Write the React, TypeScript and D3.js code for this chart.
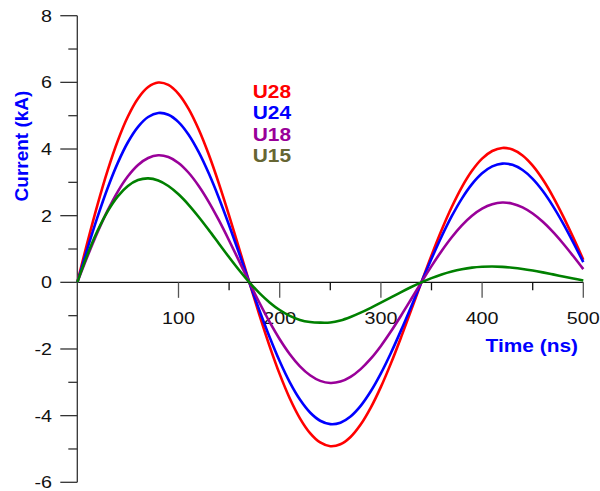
import React from "react";
import * as d3 from "d3";

const timeNs = [
  0, 10, 20, 30, 40, 50, 60, 70, 80, 90, 100, 110, 120, 130, 140, 150, 160, 170, 180, 190,
  200, 210, 220, 230, 240, 250, 260, 270, 280, 290, 300, 310, 320, 330, 340, 350, 360, 370, 380, 390,
  400, 410, 420, 430, 440, 450, 460, 470, 480, 490, 500,
];

const u28 = [
  0, 1.2, 2.333, 3.36, 4.25, 4.976, 5.517, 5.859, 5.995, 5.925, 5.657, 5.205, 4.585, 3.827, 2.955, 2.004, 1.007, 0,
  -0.984, -1.913, -2.755, -3.485, -4.08, -4.524, -4.805, -4.917, -4.859, -4.64, -4.268, -3.76, -3.138, -2.424, -1.643, -0.826, 0,
  0.807, 1.569, 2.259, 2.858, 3.346, 3.711, 3.94, 4.032, 3.985, 3.805, 3.5, 3.084, 2.574, 1.987, 1.348, 0.677,
];
const u24 = [
  0, 1.009, 1.963, 2.831, 3.585, 4.203, 4.666, 4.961, 5.082, 5.029, 4.808, 4.429, 3.906, 3.263, 2.524, 1.714, 0.862, 0,
  -0.845, -1.643, -2.37, -3.002, -3.518, -3.906, -4.153, -4.255, -4.211, -4.025, -3.707, -3.27, -2.732, -2.112, -1.434, -0.722, 0,
  0.707, 1.376, 1.984, 2.513, 2.945, 3.27, 3.477, 3.562, 3.525, 3.369, 3.104, 2.738, 2.287, 1.769, 1.201, 0.604,
];
const u18 = [
  0, 0.774, 1.501, 2.157, 2.724, 3.182, 3.521, 3.732, 3.811, 3.759, 3.582, 3.288, 2.891, 2.408, 1.856, 1.256, 0.63, 0,
  -0.613, -1.189, -1.709, -2.158, -2.521, -2.789, -2.957, -3.019, -2.978, -2.837, -2.605, -2.291, -1.908, -1.47, -0.995, -0.499, 0,
  0.486, 0.942, 1.354, 1.71, 1.998, 2.211, 2.343, 2.393, 2.36, 2.249, 2.064, 1.815, 1.512, 1.165, 0.789, 0.396,
];
const u15 = [
  0, 0.831, 1.546, 2.131, 2.58, 2.891, 3.069, 3.12, 3.056, 2.891, 2.642, 2.327, 1.962, 1.567, 1.159, 0.752, 0.362, 0,
  -0.324, -0.602, -0.831, -1.006, -1.128, -1.19, -1.21, -1.205, -1.145, -1.04, -0.91, -0.765, -0.611, -0.452, -0.293, -0.141, 0,
  0.126, 0.235, 0.324, 0.392, 0.44, 0.466, 0.474, 0.465, 0.439, 0.402, 0.354, 0.298, 0.238, 0.176, 0.115, 0.055,
];

const seriesNames = ["U28", "U24", "U18", "U15"];
const seriesValues = [u28, u24, u18, u15];
const lineColors = ["#ff0000", "#0000ff", "#990099", "#008000"];
const legendColors = ["#ff0000", "#0000ff", "#990099", "#666633"];

const xMajorTicks = [100, 200, 300, 400, 500];
const xMinorTicks = [150, 250, 350, 450];
const yMajorTicks = [8, 6, 4, 2, 0, -2, -4, -6];
const yMinorTicks = [7, 5, 3, 1, -1, -3, -5];

const W = 600;
const H = 491;
const FONT = "Arial, 'Liberation Sans', sans-serif";
const SX = 1.16;

function T(props: {
  x: number;
  y: number;
  anchor?: "start" | "middle" | "end";
  size: number;
  bold?: boolean;
  fill: string;
  children: React.ReactNode;
}) {
  return (
    <text
      transform={`translate(${props.x},${props.y}) scale(${SX},1)`}
      textAnchor={props.anchor || "start"}
      fontSize={props.size}
      fontWeight={props.bold ? "bold" : "normal"}
      fill={props.fill}
    >
      {props.children}
    </text>
  );
}

export default function App() {
  const x = d3.scaleLinear().domain([0, 500]).range([77.3, 583.3]);
  const y = d3.scaleLinear().domain([-6, 8]).range([482.3, 15.7]);
  const line = d3
    .line<number>()
    .x((_, i) => x(timeNs[i]))
    .y((d) => y(d))
    .curve(d3.curveCatmullRom.alpha(0.5));

  const x0 = x(0);
  const y0 = y(0);

  return (
    <svg
      width={W}
      height={H}
      style={{ position: "absolute", left: 0, top: 0, background: "#fff" }}
      fontFamily={FONT}
    >
      <rect x={0} y={0} width={W} height={H} fill="#fff" />
      {/* Y axis */}
      <line x1={x0} x2={x0} y1={y(8)} y2={y(-6)} stroke="#333" strokeWidth={1.3} />
      {yMajorTicks.map((t) => (
        <g key={"ym" + t}>
          <line x1={60.3} x2={x0} y1={y(t)} y2={y(t)} stroke="#333" strokeWidth={1.3} />
          <T x={52} y={y(t) + 6} anchor="end" size={17} fill="#111">
            {t}
          </T>
        </g>
      ))}
      {yMinorTicks.map((t) => (
        <line key={"yn" + t} x1={68.3} x2={x0} y1={y(t)} y2={y(t)} stroke="#333" strokeWidth={1.3} />
      ))}
      {/* X axis */}
      <line x1={x0} x2={x(500)} y1={y0} y2={y0} stroke="#111" strokeWidth={1.3} />
      {xMajorTicks.map((t) => (
        <g key={"xm" + t}>
          <line x1={x(t)} x2={x(t)} y1={y0} y2={y0 + 15.5} stroke="#555" strokeWidth={1.3} />
          <T x={x(t)} y={324} anchor="middle" size={17} fill="#111">
            {t}
          </T>
        </g>
      ))}
      {xMinorTicks.map((t) => (
        <line key={"xn" + t} x1={x(t)} x2={x(t)} y1={y0} y2={y0 + 8} stroke="#111" strokeWidth={1.3} />
      ))}
      {/* axis titles */}
      <T x={578} y={352} anchor="end" size={18} bold fill="#0000ff">
        Time (ns)
      </T>
      <text
        transform="translate(27.5,146) rotate(-90)"
        textAnchor="middle"
        fontSize={19}
        fontWeight="bold"
        fill="#0000ff"
      >
        Current (kA)
      </text>
      {/* curves */}
      {seriesValues.map((vals, i) => (
        <path key={seriesNames[i]} d={line(vals) || ""} fill="none" stroke={lineColors[i]} strokeWidth={2.6} />
      ))}
      {/* legend */}
      {seriesNames.map((n, i) => (
        <T key={"lg" + n} x={252.7} y={97.5 + i * 21.5} size={18} bold fill={legendColors[i]}>
          {n}
        </T>
      ))}
    </svg>
  );
}
